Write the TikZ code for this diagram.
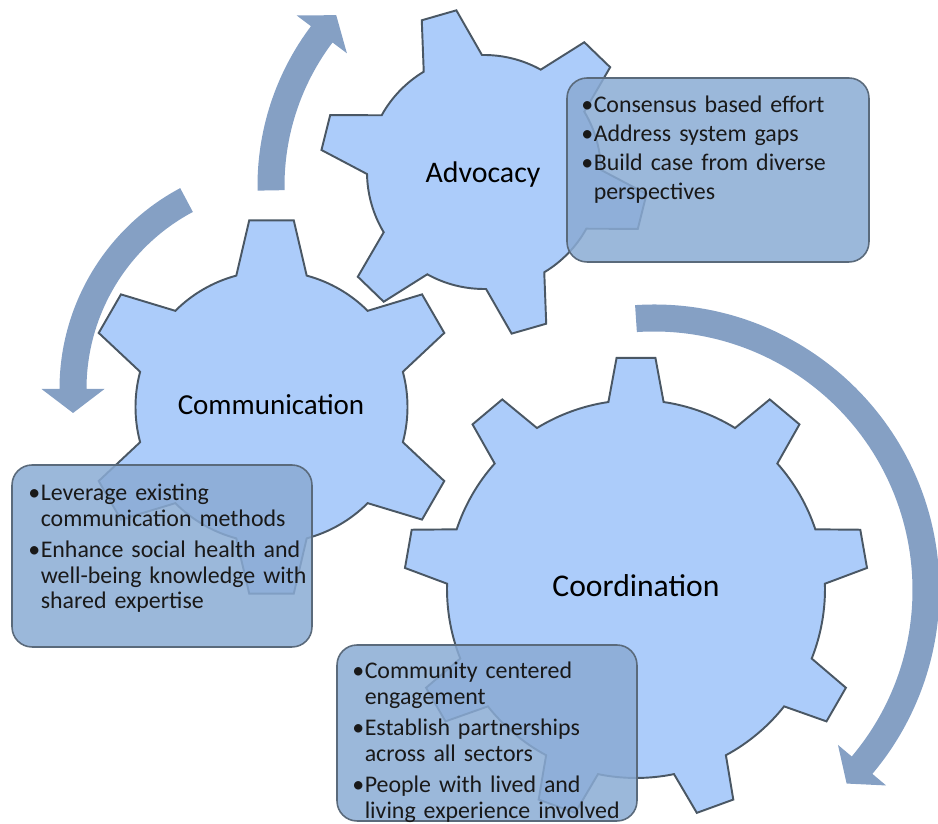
\documentclass[tikz,border=0pt]{standalone}
\usepackage{fontspec}
\setmainfont{Carlito}
\usetikzlibrary{positioning}

\definecolor{gearfill}{HTML}{ACCCFA}
\definecolor{gearline}{HTML}{4A5764}
\definecolor{arrowblue}{HTML}{85A0C4}
\definecolor{boxfill}{HTML}{8AABD4}
\definecolor{boxline}{HTML}{5A6A7B}

\newcommand{\bitem}{\noindent\makebox[0.52em][l]{\textbullet}}
\newcommand{\bcont}{\newline\hspace*{0.52em}}

\tikzset{
  gear/.style={draw=gearline, fill=gearfill, line width=1.1pt, line join=miter},
  flowarrow/.style={fill=arrowblue},
  infobox/.style={draw=boxline, fill=boxfill, fill opacity=0.85, line width=0.9pt,
    rounded corners=0.4cm, inner sep=0pt},
  boxtext/.style={anchor=north west, inner sep=0pt, text width=#1, text=black!90,
    font={\fontsize{13.6pt}{14.5pt}\selectfont\parskip=3.4pt}},
  gearlabel/.style={font=\fontsize{17pt}{20pt}\selectfont}
}

\begin{document}
\begin{tikzpicture}[x=0.02cm, y=0.02cm]
  \useasboundingbox (0,0) rectangle (938,824);

  % curved arrows
  \fill[flowarrow, shift={(523,638)}]
    (181:265.5) arc[start angle=181, end angle=143, radius=265.5]
    -- (143:283.5) -- (137.56:253.1) -- (143:220.5)
    -- (143:238.5) arc[start angle=143, end angle=181, radius=238.5] -- cycle;
  \fill[flowarrow, shift={(287,435)}]
    (118:227.5) arc[start angle=118, end angle=180, radius=227.5]
    -- (180:245.5) -- (186.4:215.3) -- (180:182.5)
    -- (180:200.5) arc[start angle=180, end angle=118, radius=200.5] -- cycle;
  \fill[flowarrow, shift={(654,234)}]
    (93.8:285.5) arc[start angle=93.8, end angle=-40.1, radius=285.5]
    -- (-40.1:303.5) -- (-45.14:273.1) -- (-40.1:240.5)
    -- (-40.1:258.5) arc[start angle=-40.1, end angle=93.8, radius=258.5] -- cycle;

  % gears
  \draw[gear, shift={(271.5,417)}] (75:136)
    \foreach \a in {90,150,...,390} {
      -- ({\a-6.8}:188) -- ({\a+6.8}:188) -- ({\a+15}:136)
      arc[start angle={\a+15}, end angle={\a+45}, radius=136]
    } -- cycle;
  \draw[gear, shift={(484,652)}] (91:117)
    \foreach \a in {106,166,...,406} {
      -- ({\a-6.3}:164) -- ({\a+6.3}:164) -- ({\a+15}:117)
      arc[start angle={\a+15}, end angle={\a+45}, radius=117]
    } -- cycle;
  \draw[gear, shift={(636,235)}] (81.6:189)
    \foreach \a in {90,130,...,410} {
      -- ({\a-4.8}:232) -- ({\a+4.8}:232) -- ({\a+8.4}:189)
      arc[start angle={\a+8.4}, end angle={\a+31.6}, radius=189]
    } -- cycle;

  % gear names
  \node[gearlabel] (advocacy) at (483,649) {Advocacy};
  \node[gearlabel, font=\fontsize{16.5pt}{20pt}\selectfont] (communication) at (271,419) {Communication};
  \node[gearlabel, font=\fontsize{18pt}{21pt}\selectfont] (coordination) at (636,238) {Coordination};

  % boxes
  \node[infobox, minimum width=6.04cm, minimum height=3.68cm] (advbox) at (718,654) {};
  \node[infobox, minimum width=6cm, minimum height=3.64cm] (combox) at (162,268) {};
  \node[infobox, minimum width=6cm, minimum height=3.52cm] (coobox) at (487,91) {};

  \node[boxtext=5.8cm, font={\fontsize{13.6pt}{16.4pt}\selectfont\parskip=0pt}] (advtext) at (581,728)
    {\bitem Consensus based effort\par\bitem Address system gaps\par\bitem Build case from diverse\bcont perspectives};
  \node[boxtext=6cm] (comtext) at (28,340)
    {\bitem Leverage existing\bcont communication methods\par\bitem Enhance social health and\bcont well-being knowledge with\bcont shared expertise};
  \node[boxtext=6cm] (cootext) at (352,162)
    {\bitem Community centered\bcont engagement\par\bitem Establish partnerships\bcont across all sectors\par\bitem People with lived and\bcont living experience involved};
\end{tikzpicture}
\end{document}
